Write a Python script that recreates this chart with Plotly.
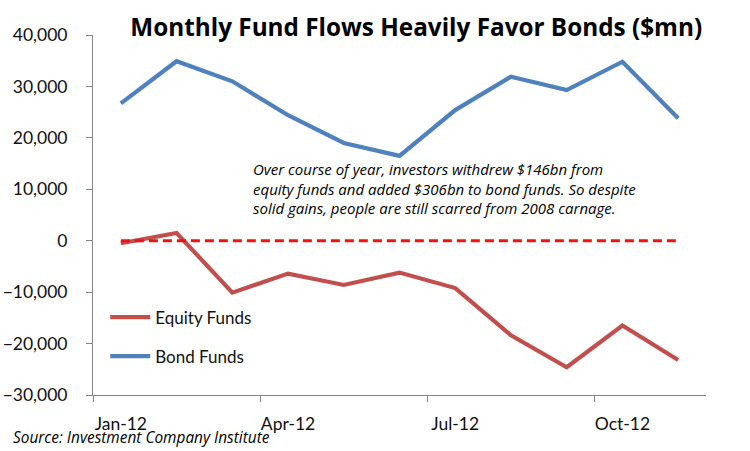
import plotly.graph_objects as go

# === DATA ===
months = ["Jan-12", "Feb-12", "Mar-12", "Apr-12", "May-12", "Jun-12",
          "Jul-12", "Aug-12", "Sep-12", "Oct-12", "Nov-12"]
equity_funds = [-500, 1500, -10100, -6400, -8600, -6200,
                -9200, -18400, -24600, -16500, -23200]
bond_funds = [26700, 34900, 31000, 24400, 19000, 16500,
              25400, 31900, 29300, 34800, 23800]
zero_line = [0] * len(months)

tick_idx = [0, 3, 6, 9]
tick_text = [months[i] for i in tick_idx]

FONT = "Lato, Calibri, sans-serif"
FONT_WIDE = "'Open Sans', Calibri, sans-serif"
BLUE = "#4F81BD"
RED = "#C0504D"

x = list(range(len(months)))

fig = go.Figure()

fig.add_trace(go.Scatter(
    x=x, y=bond_funds, name="Bond Funds", mode="lines",
    line=dict(color=BLUE, width=4.2), legendrank=2, legendgroup="b"
))
fig.add_trace(go.Scatter(
    x=x, y=equity_funds, name="Equity Funds", mode="lines",
    line=dict(color=RED, width=4.2), legendrank=1, legendgroup="e"
))
# zero reference line
fig.add_trace(go.Scatter(
    x=x, y=zero_line, mode="lines", showlegend=False,
    line=dict(color="#E8141C", width=3, dash="9px,5px")
))

fig.update_layout(
    width=750, height=451,
    paper_bgcolor="white", plot_bgcolor="white",
    margin=dict(l=93, r=44, t=35, b=56),
    font=dict(family=FONT, size=17, color="#111111"),
    title=dict(
        text="<b>Monthly Fund Flows Heavily Favor Bonds ($mn)</b>",
        x=0.555, xanchor="center", y=0.94, yanchor="middle", yref="container",
        font=dict(family=FONT_WIDE, size=24.3, color="black")
    ),
    showlegend=True,
    legend=dict(
        x=0.02, y=0.161, xanchor="left", yanchor="middle",
        bgcolor="rgba(0,0,0,0)", font=dict(size=17),
        tracegroupgap=14, itemwidth=40
    ),
    xaxis=dict(
        range=[-0.5, len(months) - 0.5], automargin=False,
        tickmode="array", tickvals=tick_idx, ticktext=tick_text,
        ticks="", showline=True, linecolor="#868686", linewidth=1,
        showgrid=False, zeroline=False, ticklabelstandoff=13,
        minor=dict(tickmode="array", tickvals=[i - 0.5 for i in tick_idx],
                   ticks="outside", ticklen=6, tickcolor="#868686"),
        tickfont=dict(size=17.5),
    ),
    yaxis=dict(
        range=[-30000, 40000], dtick=10000, tickformat=",", automargin=False,
        ticks="outside", ticklen=6, tickcolor="#868686",
        showline=True, linecolor="#868686", linewidth=1,
        showgrid=False, zeroline=False, ticklabelstandoff=15,
        tickfont=dict(size=17.5),
    ),
)

fig.add_annotation(
    xref="paper", yref="paper", x=0.257, y=0.574,
    xanchor="left", yanchor="middle", align="left", showarrow=False,
    text="<i>Over course of year, investors withdrew $146bn from<br>"
         "equity funds and added $306bn to bond funds. So despite<br>"
         "solid gains, people are still scarred from 2008 carnage.</i>",
    font=dict(family=FONT_WIDE, size=15, color="black")
)
fig.add_annotation(
    xref="paper", yref="paper", x=-0.133, y=-0.118,
    xanchor="left", yanchor="middle", showarrow=False,
    text="<i>Source: Investment Company Institute</i>",
    font=dict(family=FONT_WIDE, size=15.4, color="black")
)

fig.write_html("out.html", config={"displayModeBar": False},
               post_script="document.body.style.margin='0';")
